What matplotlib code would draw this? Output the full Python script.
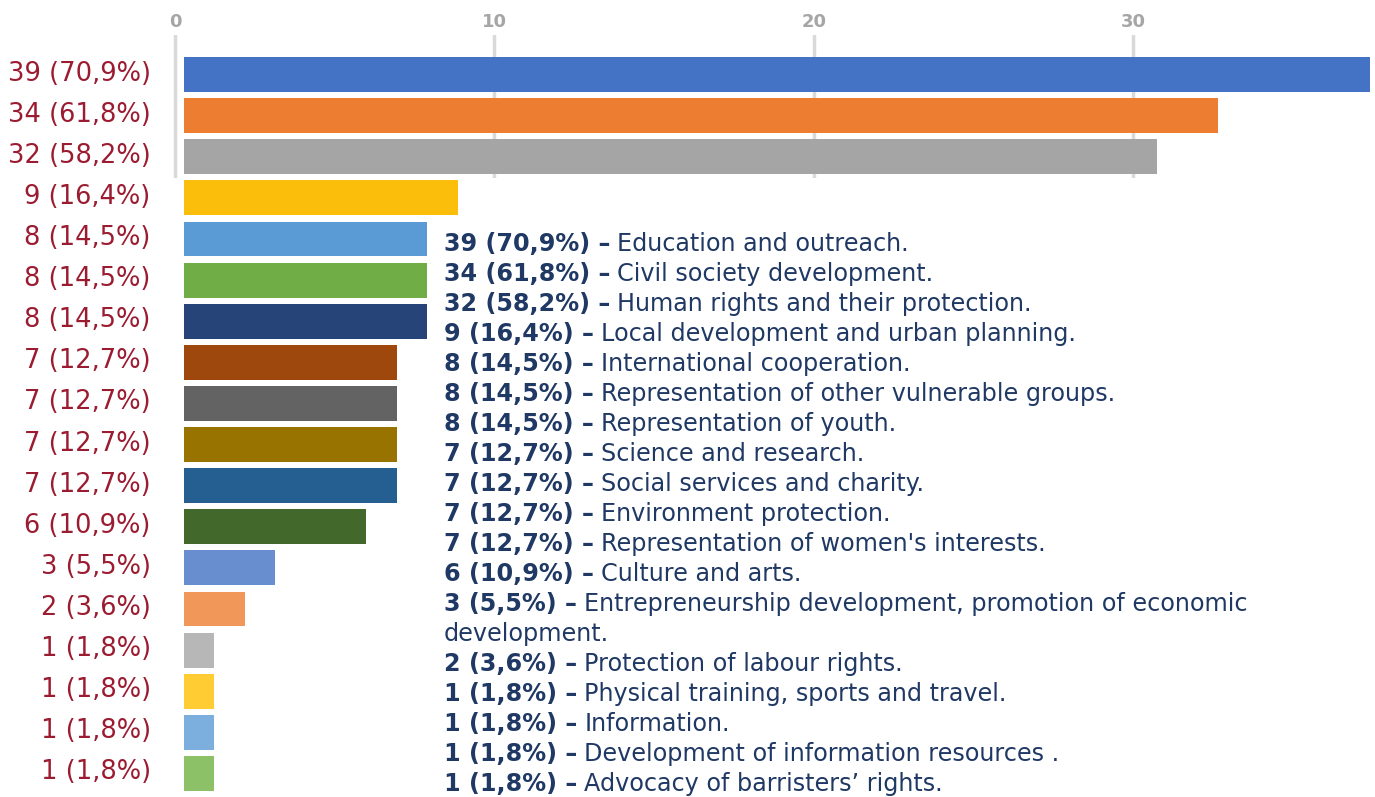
import matplotlib
matplotlib.use("Agg")
import matplotlib.pyplot as plt
from matplotlib.transforms import ScaledTranslation

counts = [39, 34, 32, 9, 8, 8, 8, 7, 7, 7, 7, 6, 3, 2, 1, 1, 1, 1]
shares = ["70,9%", "61,8%", "58,2%", "16,4%", "14,5%", "14,5%", "14,5%", "12,7%",
          "12,7%", "12,7%", "12,7%", "10,9%", "5,5%", "3,6%", "1,8%", "1,8%",
          "1,8%", "1,8%"]
areas = [
    "Education and outreach.",
    "Civil society development.",
    "Human rights and their protection.",
    "Local development and urban planning.",
    "International cooperation.",
    "Representation of other vulnerable groups.",
    "Representation of youth.",
    "Science and research.",
    "Social services and charity.",
    "Environment protection.",
    "Representation of women's interests.",
    "Culture and arts.",
    "Entrepreneurship development, promotion of economic\ndevelopment.",
    "Protection of labour rights.",
    "Physical training, sports and travel.",
    "Information.",
    "Development of information resources .",
    "Advocacy of barristers\u2019 rights.",
]
colors = ["#4472C4", "#ED7D31", "#A5A5A5", "#FBBF0B", "#5B9BD5", "#70AD47",
          "#264478", "#9E480E", "#636363", "#997300", "#255E91", "#43682B",
          "#698ED0", "#F1975A", "#B7B7B7", "#FFCD33", "#7CAFDD", "#8CC168"]
grid_ticks = [0, 10, 20, 30]

W, H = 1375, 797
plt.rcParams["font.family"] = ["DejaVu Sans"]
fig = plt.figure(figsize=(W / 100, H / 100), dpi=100)

# top scale with gridlines (only covers the upper part)
gax = fig.add_axes([170 / W, 1 - 178 / H, (W - 170) / W, (178 - 35) / H], zorder=0)
gax.set_xlim(-0.156, 37.56)
gax.set_ylim(0, 1)
gax.set_xticks(grid_ticks)
gax.xaxis.tick_top()
gax.tick_params(axis="x", length=0, pad=3, labelsize=13, labelcolor="#A6A6A6")
for lab in gax.get_xticklabels():
    lab.set_fontweight("bold")
gax.set_yticks([])
gax.grid(axis="x", color="#D9D9D9", linewidth=2.5)
for s in gax.spines.values():
    s.set_visible(False)

# bars
ax = fig.add_axes([184 / W, 1 - 794 / H, (W - 184) / W, 740 / H], zorder=1)
ax.patch.set_alpha(0)
ypos = list(range(len(counts)))
ax.barh(ypos, counts, height=0.85, color=colors)
ax.set_xlim(0, 39.18)
ax.set_ylim(len(counts) - 0.5, -0.5)
ax.set_xticks([])
ax.set_yticks(ypos)
ax.set_yticklabels([f"{c} ({s})" for c, s in zip(counts, shares)])
ax.tick_params(axis="y", length=0, pad=24, labelsize=18.5, labelcolor="#9B1B30")
lift = ScaledTranslation(0, 4 / 100, fig.dpi_scale_trans)
for lab in ax.get_yticklabels():
    lab.set_transform(lab.get_transform() + lift)
for s in ax.spines.values():
    s.set_visible(False)

# list of areas on the right
navy = "#1F3864"
fig.canvas.draw()
r = fig.canvas.get_renderer()
x0 = 444
y = 244
step = 30
fs = 17.2
for c, s, a in zip(counts, shares, areas):
    t = fig.text(x0 / W, 1 - y / H, f"{c} ({s}) \u2013", fontsize=fs,
                 fontweight="bold", color=navy, va="center", ha="left")
    bb = t.get_window_extent(renderer=r)
    lines = a.split("\n")
    fig.text((bb.x1 + 7) / W, 1 - y / H, lines[0], fontsize=fs,
             color=navy, va="center", ha="left")
    for extra in lines[1:]:
        y += step
        fig.text(x0 / W, 1 - y / H, extra, fontsize=fs, color=navy,
                 va="center", ha="left")
    y += step

fig.savefig("out.png", dpi=100)
